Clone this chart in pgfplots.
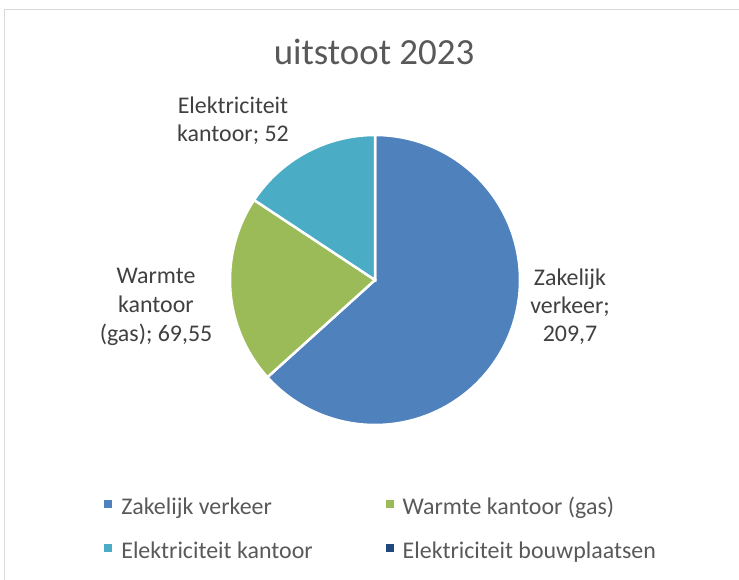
\documentclass[border=0pt]{standalone}
\usepackage{pgfplots}
\pgfplotsset{compat=1.18}
\usepackage{pgfplotstable}
\usepackage{fontspec}
\setmainfont{Carlito}
\definecolor{cA}{HTML}{4F81BD}
\definecolor{cB}{HTML}{9BBB59}
\definecolor{cC}{HTML}{4BACC6}
\definecolor{cD}{HTML}{1F497D}
\definecolor{cT}{HTML}{595959}
\definecolor{cL}{HTML}{404040}
\definecolor{cBorder}{HTML}{D9D9D9}
\pgfplotstableread{
name value
Zakelijk 209.7
Warmte 69.55
Elektriciteit 52
Bouwplaatsen 0
}\piedata
\pgfplotstablegetelem{0}{value}\of\piedata \let\vA\pgfplotsretval
\pgfplotstablegetelem{1}{value}\of\piedata \let\vB\pgfplotsretval
\pgfplotstablegetelem{2}{value}\of\piedata \let\vC\pgfplotsretval
\pgfplotstablegetelem{3}{value}\of\piedata \let\vD\pgfplotsretval
\pgfmathsetmacro\tot{\vA+\vB+\vC+\vD}
\pgfmathsetmacro\aO{90}
\pgfmathsetmacro\aA{90-360*(\vA/\tot)}
\pgfmathsetmacro\aB{\aA-360*(\vB/\tot)}
\pgfmathsetmacro\aC{\aB-360*(\vC/\tot)}
\begin{document}
\begin{tikzpicture}[x=1bp,y=1bp]
\useasboundingbox (0,0) rectangle (739,580);
\fill[white] (0,0) rectangle (739,580);
\draw[cBorder, line width=1.5bp] (4.5,0) -- (4.5,570.5) -- (739,570.5);
\begin{axis}[at={(375bp,300bp)}, anchor=center, scale only axis,
  width=290bp, height=290bp, xmin=-1, xmax=1, ymin=-1, ymax=1,
  hide axis, clip=false,
  legend columns=2, legend cell align=left,
  legend image code/.code={\fill[#1,draw=none] (0bp,-1bp) rectangle (8bp,7bp);},
  legend style={at={(axis description cs:-0.434,-0.241)}, anchor=north west,
    draw=none, fill=none, font=\fontsize{24}{28}\selectfont, text=cT,
    inner sep=0pt, row sep=22bp,
    /tikz/every odd column/.append style={column sep=7bp},
    /tikz/every even column/.append style={column sep=71bp}}]
\addplot[fill=cA, draw=white, line width=2.5bp, domain=\aA:\aO, samples=150] ({cos(x)},{sin(x)}) -- (axis cs:0,0) -- cycle;
\addlegendentry{Zakelijk verkeer}
\addplot[fill=cB, draw=white, line width=2.5bp, domain=\aB:\aA, samples=80] ({cos(x)},{sin(x)}) -- (axis cs:0,0) -- cycle;
\addlegendentry{Warmte kantoor (gas)}
\addplot[fill=cC, draw=white, line width=2.5bp, domain=\aC:\aB, samples=80] ({cos(x)},{sin(x)}) -- (axis cs:0,0) -- cycle;
\addlegendentry{Elektriciteit kantoor}
\addlegendimage{fill=cD}
\addlegendentry{Elektriciteit bouwplaatsen}
\end{axis}
\node[anchor=base, text=cT, font=\fontsize{37}{40}\selectfont] at (374,515) {uitstoot 2023};
\node[align=center, text=cL, font=\fontsize{24}{28}\selectfont] at (233,459) {Elektriciteit\\kantoor; 52};
\node[align=center, text=cL, font=\fontsize{24}{29}\selectfont] at (156,273) {Warmte\\kantoor\\(gas); 69,55};
\node[align=center, text=cL, font=\fontsize{24}{28}\selectfont] at (570,273) {Zakelijk\\verkeer;\\209,7};
\end{tikzpicture}
\end{document}
